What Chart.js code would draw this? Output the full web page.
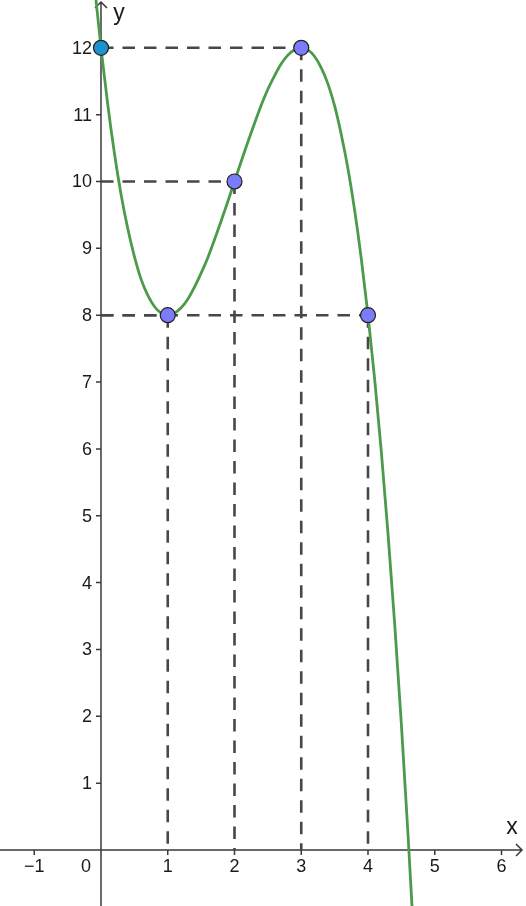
<!DOCTYPE html>
<html>
<head>
<meta charset="utf-8">
<style>
html,body{margin:0;padding:0;background:#fff;}
#wrap{width:526px;height:906px;position:relative;}
canvas{display:block;}
</style>
<script src="https://cdn.jsdelivr.net/npm/chart.js@4/dist/chart.umd.min.js"></script>
</head>
<body>
<div id="wrap"><canvas id="c" width="526" height="906"></canvas></div>
<script>
// Curve samples
const curveX = [-0.1,0,0.1,0.2,0.3,0.4,0.5,0.6,0.7,0.8,0.9,1,1.1,1.2,1.3,1.4,1.5,1.6,1.7,1.8,1.9,2,2.1,2.2,2.3,2.4,2.5,2.6,2.7,2.8,2.9,3,3.1,3.2,3.3,3.4,3.5,3.6,3.7,3.8,3.9,4,4.1,4.2,4.3,4.4,4.5,4.6,4.7];
const curveY = [12.96,12,11.16,10.43,9.81,9.30,8.88,8.54,8.30,8.13,8.03,8,8.03,8.11,8.24,8.42,8.63,8.86,9.13,9.41,9.70,10,10.30,10.59,10.87,11.14,11.38,11.58,11.76,11.89,11.97,12,11.97,11.87,11.70,11.46,11.13,10.70,10.19,9.57,8.84,8,7.04,5.95,4.73,3.38,1.88,0.22,-1.58];
// Marked points
const pointX = [0,1,2,3,4];
const pointY = [12,8,10,12,8];
// Tick labels
const xTicks = [-1,0,1,2,3,4,5,6];
const yTicks = [1,2,3,4,5,6,7,8,9,10,11,12];

const curveData = curveX.map((x,i)=>({x:x,y:curveY[i]}));
const ptData = pointX.map((x,i)=>({x:x,y:pointY[i]}));
const ptColors = pointX.map(x => x===0 ? '#1b93cc' : '#7b7bfb');

const guideSets = [];
pointX.forEach((x,i)=>{
  const y = pointY[i];
  if (x !== 0) {
    guideSets.push({type:'line',data:[{x:0,y:y},{x:x,y:y}],borderColor:'#474747',borderWidth:2.6,borderDash:[12.5,9],pointRadius:0,fill:false,order:3});
    guideSets.push({type:'line',data:[{x:x,y:y},{x:x,y:0}],borderColor:'#474747',borderWidth:2.6,borderDash:[12.5,9],pointRadius:0,fill:false,order:3});
  }
});

const axesPlugin = {
  id:'axesPlugin',
  beforeDatasetsDraw(chart){
    const ctx = chart.ctx, xs = chart.scales.x, ys = chart.scales.y;
    const x0 = xs.getPixelForValue(0), y0 = ys.getPixelForValue(0);
    const W = chart.width, H = chart.height;
    ctx.save();
    ctx.strokeStyle = '#3a3a3a';
    ctx.lineWidth = 1.5;
    ctx.beginPath();
    ctx.moveTo(0,y0); ctx.lineTo(W-4,y0);
    ctx.moveTo(x0,H); ctx.lineTo(x0,2);
    // arrows
    ctx.moveTo(W-10,y0-6); ctx.lineTo(W-4,y0); ctx.lineTo(W-10,y0+6);
    ctx.moveTo(x0-6,8); ctx.lineTo(x0,2); ctx.lineTo(x0+6,8);
    // ticks
    xTicks.forEach(v=>{ if(v!==0){ const p=xs.getPixelForValue(v); ctx.moveTo(p,y0); ctx.lineTo(p,y0+5);} });
    yTicks.forEach(v=>{ const p=ys.getPixelForValue(v); ctx.moveTo(x0-5,p); ctx.lineTo(x0,p); });
    ctx.stroke();
    ctx.fillStyle = '#1a1a1a';
    ctx.font = '18px "Liberation Sans", Arial, sans-serif';
    ctx.textBaseline = 'middle';
    ctx.textAlign = 'center';
    xTicks.forEach(v=>{
      const p = xs.getPixelForValue(v);
      const txt = v<0 ? '\u2212'+Math.abs(v) : String(v);
      if (v===0) ctx.fillText(txt, p-15, y0+17);
      else ctx.fillText(txt, p, y0+17);
    });
    ctx.textAlign = 'right';
    yTicks.forEach(v=>{
      const p = ys.getPixelForValue(v);
      ctx.fillText(String(v), x0-9, p+1);
    });
    ctx.font = '23px "Liberation Sans", Arial, sans-serif';
    ctx.textAlign = 'center';
    ctx.fillText('x', W-14, y0-22);
    ctx.fillText('y', x0+18, 14);
    ctx.restore();
  }
};

new Chart(document.getElementById('c'), {
  type:'scatter',
  data:{
    datasets:[
      {type:'scatter',data:ptData,pointRadius:7.5,pointHoverRadius:7.5,pointBackgroundColor:ptColors,pointBorderColor:'#222',pointBorderWidth:1.2,order:1},
      {type:'line',data:curveData,borderColor:'#4b9b4b',borderWidth:2.8,pointRadius:0,fill:false,cubicInterpolationMode:'monotone',order:2},
      ...guideSets
    ]
  },
  options:{
    responsive:false,
    animation:false,
    events:[],
    layout:{padding:0,autoPadding:false},
    plugins:{legend:{display:false},tooltip:{enabled:false}},
    scales:{
      x:{type:'linear',min:-1.513,max:6.367,display:false},
      y:{type:'linear',min:-0.838,max:12.715,display:false}
    }
  },
  plugins:[axesPlugin]
});
</script>
</body>
</html>
